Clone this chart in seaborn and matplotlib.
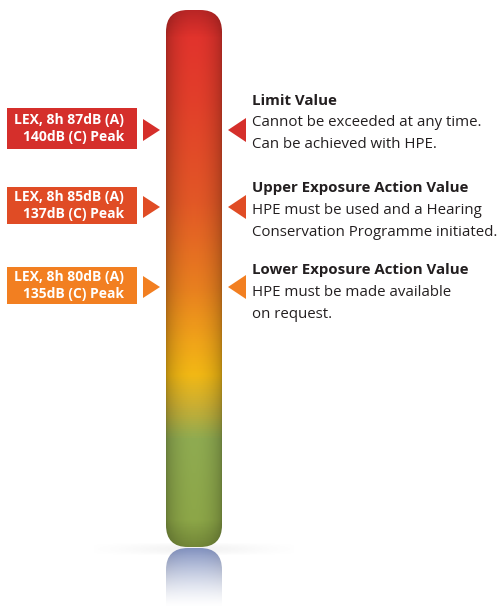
import numpy as np
import matplotlib
matplotlib.use("Agg")
import matplotlib.pyplot as plt
import seaborn as sns
from matplotlib.colors import LinearSegmentedColormap, to_rgb
from matplotlib.patches import FancyBboxPatch, Rectangle, Polygon

sns.set_theme(style="white")
plt.rcParams['font.family'] = ['Open Sans', 'DejaVu Sans']

# %% data
titles = ["Limit Value", "Upper Exposure Action Value", "Lower Exposure Action Value"]
descriptions = [
    ["Cannot be exceeded at any time.", "Can be achieved with HPE."],
    ["HPE must be used and a Hearing", "Conservation Programme initiated."],
    ["HPE must be made available", "on request."],
]
lex_db = [87, 85, 80]
peak_db = [140, 137, 135]
level_colors = ["#d52f2b", "#e04c25", "#f27f21"]

# gradient of the scale, top -> bottom
grad_pos = [0.0, 0.17, 0.36, 0.52, 0.62, 0.68, 0.74, 0.80, 1.0]
grad_colors = ["#e22f2e", "#e23f2a", "#e25826", "#e8801f", "#f0a419",
               "#f2b814", "#c9ae33", "#8fab51", "#8ca545"]

# %% layout (pixels)
W, H = 499, 608
bar_x0, bar_x1 = 166, 222
bar_y0, bar_y1 = 10, 547
box_y = [128, 205, 285]
box_h = [41, 37, 37]
arrow_y = [130, 207, 287]
title_y = [101, 188, 270]
line_step = 22

fig = plt.figure(figsize=(W / 100, H / 100), dpi=100)
ax = fig.add_axes([0, 0, 1, 1])
ax.set_xlim(0, W)
ax.set_ylim(H, 0)
ax.axis('off')

# %% scale bar with cylinder shading
cmap = LinearSegmentedColormap.from_list("scale", list(zip(grad_pos, grad_colors)))
nrow = bar_y1 - bar_y0
ncol = bar_x1 - bar_x0
vert = cmap(np.linspace(0, 1, nrow))[:, :3]
u = np.linspace(0, 1, ncol)
shade = 0.74 + 0.26 * np.sin(np.pi * u) ** 0.6
img = vert[:, None, :] * shade[None, :, None]
clip = FancyBboxPatch((bar_x0, bar_y0), ncol, nrow,
                      boxstyle="round,pad=0,rounding_size=22",
                      transform=ax.transData, facecolor='none', edgecolor='none')
ax.add_patch(clip)
im = ax.imshow(img, extent=(bar_x0, bar_x1, bar_y1, bar_y0), origin='upper',
               aspect='auto', interpolation='bilinear', zorder=2)
im.set_clip_path(clip)

# darker rim at the rounded ends
rim = np.zeros((nrow, ncol, 4))
v = np.linspace(0, 1, nrow)
rim_alpha = 0.18 * (np.clip(1 - v / 0.05, 0, 1) + np.clip((v - 0.95) / 0.05, 0, 1))
rim[..., 3] = rim_alpha[:, None]
im2 = ax.imshow(rim, extent=(bar_x0, bar_x1, bar_y1, bar_y0), origin='upper',
                aspect='auto', zorder=3)
im2.set_clip_path(clip)

# %% faint floor shadow
shadow = np.zeros((12, 200, 4))
sx = np.linspace(-1, 1, 200)
sy = np.linspace(-1, 1, 12)
shadow[..., 3] = 0.05 * np.exp(-(sx[None, :] ** 2) * 2) * (1 - sy[:, None] ** 2)
ax.imshow(shadow, extent=(94, 294, 556, 542), origin='upper', aspect='auto', zorder=1)

# %% reflection
ref_h = H - bar_y1
refl = np.ones((ref_h, ncol, 4))
refl[..., :3] = np.array(to_rgb("#7b8cbd"))[None, None, :] * shade[None, :, None] ** 0.5
refl[..., 3] = (np.linspace(0.95, 0.0, ref_h) ** 1.4)[:, None]
rclip = FancyBboxPatch((bar_x0, bar_y1 + 1), ncol, 120,
                       boxstyle="round,pad=0,rounding_size=22",
                       transform=ax.transData, facecolor='none', edgecolor='none')
ax.add_patch(rclip)
im3 = ax.imshow(refl, extent=(bar_x0, bar_x1, H, bar_y1 + 1), origin='upper',
                aspect='auto', interpolation='bilinear', zorder=2)
im3.set_clip_path(rclip)

# %% labels
for i in range(len(titles)):
    col = level_colors[i]
    # left box
    ax.add_patch(Rectangle((7, box_y[i] - box_h[i] / 2), 130, box_h[i],
                           facecolor=col, edgecolor='none', zorder=4))
    ax.text(124, box_y[i] - 8, f"LEX, 8h {lex_db[i]}dB (A)", color='white',
            fontsize=10.0, fontweight='bold', ha='right', va='center', zorder=5)
    ax.text(124, box_y[i] + 9, f"{peak_db[i]}dB (C) Peak", color='white',
            fontsize=10.0, fontweight='bold', ha='right', va='center', zorder=5)
    # arrows
    c = arrow_y[i]
    ax.add_patch(Polygon([(143, c - 11), (143, c + 11), (160, c)],
                         closed=True, facecolor=col, edgecolor='none', zorder=4))
    ax.add_patch(Polygon([(246, c - 12), (246, c + 12), (228, c)],
                         closed=True, facecolor=col, edgecolor='none', zorder=4))
    # right text
    ax.text(252, title_y[i], titles[i], color='#231f20', fontsize=10.8,
            fontweight='bold', ha='left', va='center', zorder=5)
    for j, line in enumerate(descriptions[i]):
        ax.text(252, title_y[i] + line_step * (j + 1), line, color='#231f20',
                fontsize=10.8, ha='left', va='center', zorder=5)

fig.savefig("out.png", dpi=100)
